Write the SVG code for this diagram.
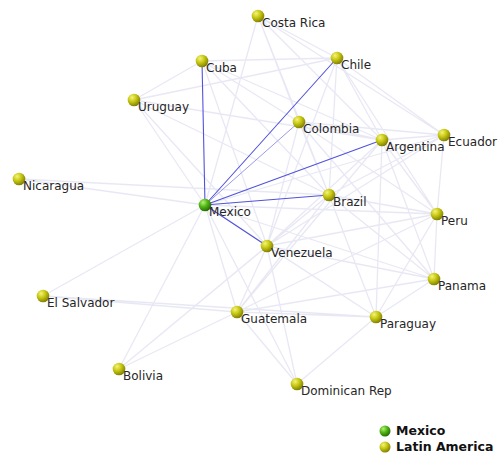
<svg xmlns="http://www.w3.org/2000/svg" width="500" height="459" viewBox="0 0 500 459">
<defs>
<radialGradient id="gy" cx="0.35" cy="0.3" r="0.75">
<stop offset="0" stop-color="#f4f47a"/>
<stop offset="0.45" stop-color="#c8c814"/>
<stop offset="1" stop-color="#7a7a00"/>
</radialGradient>
<radialGradient id="gg" cx="0.35" cy="0.3" r="0.75">
<stop offset="0" stop-color="#b6f070"/>
<stop offset="0.45" stop-color="#52b818"/>
<stop offset="1" stop-color="#226600"/>
</radialGradient>
<style>
.e{stroke:#e2e2f2;stroke-width:1.3;fill:none;opacity:0.8}
.m{stroke:#5252dc;stroke-width:1.1;fill:none}
.ml{stroke:#9a9ae8;stroke-width:1;fill:none}
.n{fill:url(#gy)}
.g{fill:url(#gg)}
text{font-family:"DejaVu Sans",Verdana,sans-serif;font-size:12px;fill:#262626}
.lg{font-weight:bold;font-size:12.5px;fill:#111}
</style>
</defs>
<rect width="500" height="459" fill="#fff"/>
<g id="connectors">
<path class="e" d="M258,16L299,122M258,16L337,58M258,16L382,140M258,16L444,135M258,16L205,205M258,16L329,195
M202,61L337,58M202,61L299,122M202,61L382,140M202,61L329,195M202,61L267,246M202,61L134,100
M337,58L382,140M337,58L444,135M337,58L329,195M337,58L437,214M337,58L267,246M337,58L134,100
M134,100L382,140M134,100L329,195M134,100L205,205M134,100L267,246
M299,122L329,195M299,122L267,246M299,122L382,140M299,122L444,135M299,122L437,214M299,122L434,279
M382,140L444,135M382,140L437,214M382,140L376,317M382,140L434,279M382,140L267,246M382,140L237,312
M444,135L437,214M444,135L329,195M444,135L267,246
M19,179L205,205M19,179L329,195
M205,205L43,296M205,205L237,312M205,205L119,369M205,205L437,214M205,205L434,279M205,205L376,317M205,205L297,384M205,205L444,135
M329,195L437,214M329,195L376,317M329,195L267,246M329,195L434,279M329,195L237,312
M437,214L267,246M437,214L237,312M437,214L376,317M437,214L434,279
M267,246L237,312M267,246L376,317M267,246L434,279M267,246L297,384
M434,279L376,317M434,279L237,312
M43,296L237,312M43,296L376,317
M237,312L376,317M237,312L297,384M237,312L119,369
M376,317L297,384M119,369L267,246M119,369L329,195"/>
<path class="m" d="M205,205L202,61M205,205L337,58M205,205L382,140M205,205L329,195M205,205L267,246"/>
<path class="ml" d="M205,205L299,122"/>
</g>
<g id="Costa_Rica"><circle class="n" cx="258" cy="16" r="6.3"/><text x="262" y="27">Costa Rica</text></g>
<g id="Cuba"><circle class="n" cx="202" cy="61" r="6.3"/><text x="206" y="72">Cuba</text></g>
<g id="Chile"><circle class="n" cx="337" cy="58" r="6.3"/><text x="341" y="69">Chile</text></g>
<g id="Uruguay"><circle class="n" cx="134" cy="100" r="6.3"/><text x="138" y="111">Uruguay</text></g>
<g id="Colombia"><circle class="n" cx="299" cy="122" r="6.3"/><text x="303" y="133">Colombia</text></g>
<g id="Argentina"><circle class="n" cx="382" cy="140" r="6.3"/><text x="386" y="151">Argentina</text></g>
<g id="Ecuador"><circle class="n" cx="444" cy="135" r="6.3"/><text x="448" y="146">Ecuador</text></g>
<g id="Nicaragua"><circle class="n" cx="19" cy="179" r="6.3"/><text x="23" y="190">Nicaragua</text></g>
<g id="Mexico"><circle class="g" cx="205" cy="205" r="6.3"/><text x="209" y="216">Mexico</text></g>
<g id="Brazil"><circle class="n" cx="329" cy="195" r="6.3"/><text x="333" y="206">Brazil</text></g>
<g id="Peru"><circle class="n" cx="437" cy="214" r="6.3"/><text x="441" y="225">Peru</text></g>
<g id="Venezuela"><circle class="n" cx="267" cy="246" r="6.3"/><text x="271" y="257">Venezuela</text></g>
<g id="Panama"><circle class="n" cx="434" cy="279" r="6.3"/><text x="438" y="290">Panama</text></g>
<g id="El_Salvador"><circle class="n" cx="43" cy="296" r="6.3"/><text x="47" y="307">El Salvador</text></g>
<g id="Guatemala"><circle class="n" cx="237" cy="312" r="6.3"/><text x="241" y="323">Guatemala</text></g>
<g id="Paraguay"><circle class="n" cx="376" cy="317" r="6.3"/><text x="380" y="328">Paraguay</text></g>
<g id="Bolivia"><circle class="n" cx="119" cy="369" r="6.3"/><text x="123" y="380">Bolivia</text></g>
<g id="Dominican_Rep"><circle class="n" cx="297" cy="384" r="6.3"/><text x="301" y="395">Dominican Rep</text></g>
<g id="legend">
<circle class="g" cx="385" cy="431" r="5.5"/><text class="lg" x="396" y="435">Mexico</text>
<circle class="n" cx="385" cy="447" r="5.5"/><text class="lg" x="396" y="451">Latin America</text>
</g>
</svg>
